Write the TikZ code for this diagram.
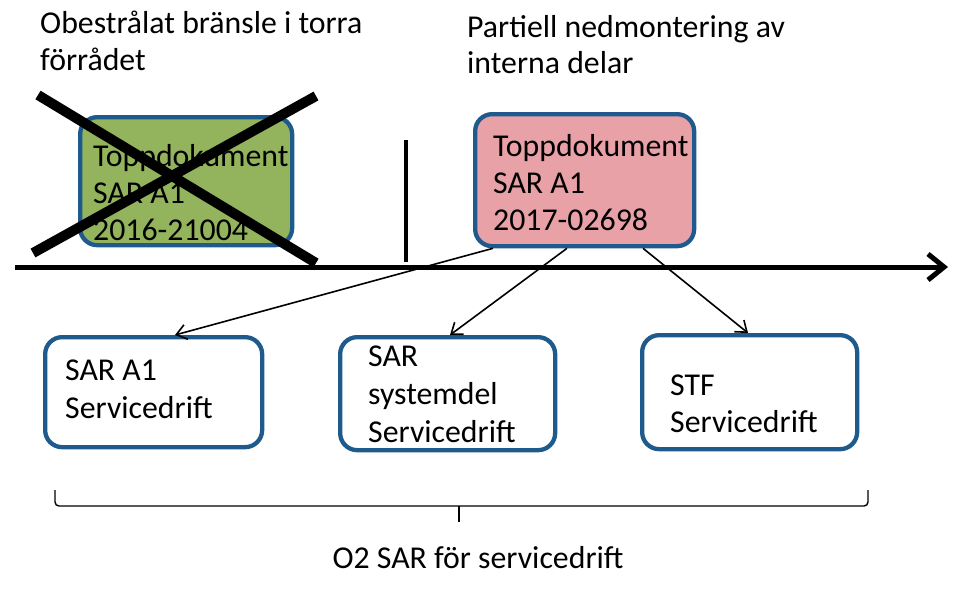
\documentclass[tikz,border=0pt]{standalone}
\usepackage{fontspec}
\setmainfont{Carlito}
\usetikzlibrary{arrows.meta}
\definecolor{bordblue}{HTML}{1F5A8C}
\definecolor{oldgreen}{HTML}{93B35C}
\definecolor{newpink}{HTML}{E8A1A7}
\tikzset{
  box/.style={draw=bordblue, line width=4.3pt, rounded corners=17pt, inner sep=0pt},
  txt/.style={anchor=base west, inner sep=0pt, font=\fontsize{31.8}{37.5}\selectfont, align=left},
  conn/.style={line width=1.6pt, -{Straight Barb[length=10pt,width=15pt]}},
}
\begin{document}
\begin{tikzpicture}[x=1pt,y=-1pt]
\useasboundingbox (0,0) rectangle (971,595);
% titles
\node[txt] (t1) at (40,33) {Obestrålat bränsle i torra};
\node[txt] (t2) at (40,70) {förrådet};
\node[txt] (t3) at (467,37) {Partiell nedmontering av};
\node[txt] (t4) at (467,73) {interna delar};
% timeline
\coordinate (tl0) at (15,267);
\coordinate (tl1) at (948,267);
\draw[line width=5pt, -{Straight Barb[length=16pt,width=26pt,line width=5pt]}] (tl0) -- (tl1);
\coordinate (v0) at (406,140);
\coordinate (v1) at (406,262);
\draw[line width=4pt] (v0) -- (v1);
% old document
\node[box, fill=oldgreen, minimum width=212pt, minimum height=128pt, anchor=north west] (old) at (78,115) {};
\node[txt] (o1) at (93,166) {Toppdokument};
\node[txt] (o2) at (93,203) {SAR A1};
\node[txt] (o3) at (93,240) {2016-21004};
% cross
\coordinate (c1) at (38,95);
\coordinate (c2) at (316,263);
\coordinate (c3) at (33,253);
\coordinate (c4) at (316,96);
\draw[line width=10pt] (c1) -- (c2);
\draw[line width=10pt] (c3) -- (c4);
% new document
\node[box, fill=newpink, minimum width=219pt, minimum height=132pt, anchor=north west] (new) at (473,112) {};
\node[txt] (n1) at (493,156) {Toppdokument};
\node[txt] (n2) at (493,193) {SAR A1};
\node[txt] (n3) at (493,230) {2017-02698};
% bottom boxes
\node[box, fill=white, minimum width=217pt, minimum height=110pt, anchor=north west] (b1) at (43,335) {};
\node[txt] (b1a) at (65,380) {SAR A1};
\node[txt] (b1b) at (65,418) {Servicedrift};
\node[box, fill=white, minimum width=215pt, minimum height=113pt, anchor=north west] (b2) at (338,335) {};
\node[txt] (b2a) at (368,366) {SAR};
\node[txt] (b2b) at (368,404) {systemdel};
\node[txt] (b2c) at (368,442) {Servicedrift};
\node[box, fill=white, minimum width=215pt, minimum height=114pt, anchor=north west] (b3) at (640,333) {};
\node[txt] (b3a) at (670,395) {STF};
\node[txt] (b3b) at (670,432) {Servicedrift};
% connectors
\draw[conn] ([xshift=20pt]new.south west) -- ([xshift=132pt]b1.north west);
\draw[conn] ([xshift=94pt]new.south west) -- ([xshift=112pt]b2.north west);
\draw[conn] ([xshift=170pt]new.south west) -- ([xshift=108pt]b3.north west);
% brace
\coordinate (br0) at (55,490);
\coordinate (br1) at (868,490);
\coordinate (brm) at (459,522);
\draw[line width=1.4pt, rounded corners=4pt] (br0) -- (55,506) -- (868,506) -- (br1);
\draw[line width=1.4pt] (459,506) -- (brm);
\node[txt, anchor=base] (lbl) at (478,568) {O2 SAR för servicedrift};
\end{tikzpicture}
\end{document}
